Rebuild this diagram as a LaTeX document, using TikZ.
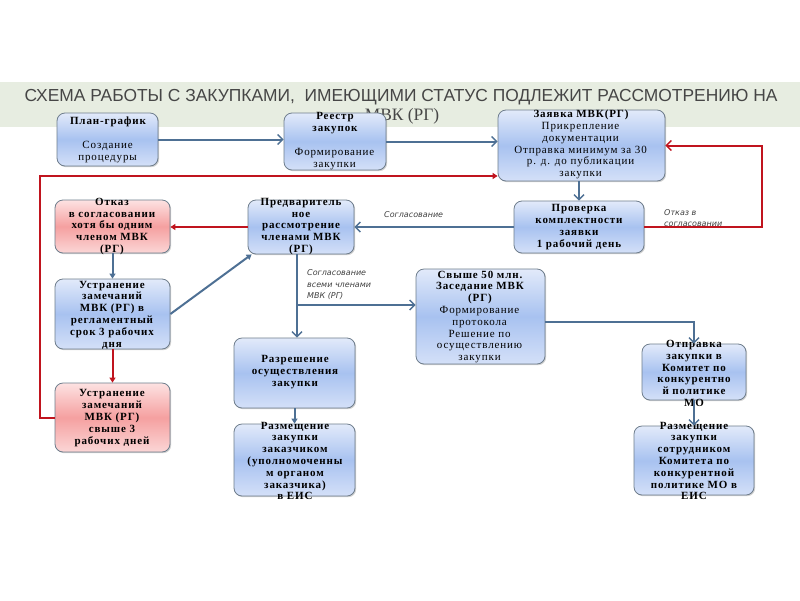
\documentclass[tikz,border=0pt]{standalone}
\usepackage{fontspec}
\setmainfont{Liberation Serif}
\newfontfamily\tsans{Liberation Sans}
\newfontfamily\bxf[LetterSpace=8]{Liberation Serif}
\newfontfamily\lbl{DejaVu Sans}
\usetikzlibrary{arrows.meta,shadows}
\definecolor{band}{RGB}{231,237,225}
\definecolor{ttl}{RGB}{70,70,70}
\definecolor{lblue}{RGB}{78,112,148}
\definecolor{lred}{RGB}{192,20,30}
\definecolor{bord}{RGB}{110,125,140}
\definecolor{btop}{RGB}{226,234,250}
\definecolor{bmid}{RGB}{168,194,240}
\definecolor{bbot}{RGB}{212,224,248}
\definecolor{rtop}{RGB}{253,226,226}
\definecolor{rmid}{RGB}{245,160,160}
\definecolor{rbot}{RGB}{251,214,214}
\tikzset{
  boxb/.style={draw=bord, line width=0.8pt, rounded corners=8pt, inner sep=0pt,
    top color=btop, bottom color=bbot, middle color=bmid,
    drop shadow={shadow xshift=1.2pt, shadow yshift=-1.2pt, opacity=0.35}},
  boxr/.style={draw=bord, line width=0.8pt, rounded corners=8pt, inner sep=0pt,
    top color=rtop, bottom color=rbot, middle color=rmid,
    drop shadow={shadow xshift=1.2pt, shadow yshift=-1.2pt, opacity=0.35}},
  txt/.style={align=center, inner sep=0pt, text=black,
    font=\bxf\fontsize{11}{11.8}\selectfont\bfseries},
  lab/.style={align=left, inner sep=0pt, text=black!75, anchor=west,
    font=\lbl\fontsize{8}{11.5}\selectfont\itshape},
  bl/.style={draw=lblue, line width=2pt},
  rl/.style={draw=lred, line width=2pt},
  opena/.style={-{Straight Barb[length=5pt,width=10pt,line width=1.4pt]}},
  filla/.style={-{Triangle[length=5pt,width=6pt]}},
}
\newcommand\mkbox[6]{\node[#6, minimum width={#4-#2}, minimum height={#5-#3}] (#1) at ({(#2+#4)/2},{(#3+#5)/2}) {};}
\begin{document}
\begin{tikzpicture}[x=1pt,y=-1pt]
\useasboundingbox (0,0) rectangle (800,600);
\fill[white] (0,0) rectangle (800,600);
\fill[band] (0,82) rectangle (800,127);
\node[font=\tsans\fontsize{17.4}{18}\selectfont, text=ttl, inner sep=0] (t1) at (401,97) {СХЕМА РАБОТЫ С ЗАКУПКАМИ,\ \ ИМЕЮЩИМИ СТАТУС ПОДЛЕЖИТ РАССМОТРЕНИЮ НА};
\node[font=\fontsize{17.4}{18}\selectfont, text=ttl, inner sep=0] (t2) at (402,116) {МВК (РГ)};

% boxes
\mkbox{plan}{57}{113}{158}{166}{boxb}
\mkbox{reestr}{284}{113}{386}{170}{boxb}
\mkbox{zayavka}{498}{110}{665}{181}{boxb}
\mkbox{otkaz}{55}{200}{170}{253}{boxr}
\mkbox{pred}{248}{200}{354}{254}{boxb}
\mkbox{prov}{514}{201}{644}{253}{boxb}
\mkbox{ust1}{55}{279}{170}{349}{boxb}
\mkbox{svy}{416}{269}{545}{364}{boxb}
\mkbox{razr}{234}{338}{355}{408}{boxb}
\mkbox{otpr}{642}{344}{746}{400}{boxb}
\mkbox{ust2}{55}{383}{170}{452}{boxr}
\mkbox{razm1}{234}{424}{355}{496}{boxb}
\mkbox{razm2}{634}{426}{754}{495}{boxb}

% texts
\node[txt] (tplan) at (108,140) {План-график\\ \\ \textmd{Создание}\\ \textmd{процедуры}};
\node[txt] (treestr) at (335,141) {Реестр\\ закупок\\ \\ \textmd{Формирование}\\ \textmd{закупки}};
\node[txt] (tzay) at (581,144.5) {Заявка МВК(РГ)\\ \textmd{Прикрепление}\\ \textmd{документации}\\ \textmd{Отправка минимум за 30}\\ \textmd{р. д. до публикации}\\ \textmd{закупки}};
\node[txt] (totk) at (112,226.5) {Отказ\\ в согласовании\\ хотя бы одним\\ членом МВК\\ (РГ)};
\node[txt] (tpred) at (301,226.5) {Предваритель\\ ное\\ рассмотрение\\ членами МВК\\ (РГ)};
\node[txt] (tprov) at (579,227) {Проверка\\ комплектности\\ заявки\\ 1 рабочий день};
\node[txt] (tust1) at (112,315) {Устранение\\ замечаний\\ МВК (РГ) в\\ регламентный\\ срок 3 рабочих\\ дня};
\node[txt] (tsvy) at (480,317) {Свыше 50 млн.\\ Заседание МВК\\ (РГ)\\ \textmd{Формирование}\\ \textmd{протокола}\\ \textmd{Решение по}\\ \textmd{осуществлению}\\ \textmd{закупки}};
\node[txt] (trazr) at (295,372) {Разрешение\\ осуществления\\ закупки};
\node[txt] (totpr) at (694,373.5) {Отправка\\ закупки в\\ Комитет по\\ конкурентно\\ й политике\\ МО};
\node[txt] (tust2) at (112,418) {Устранение\\ замечаний\\ МВК (РГ)\\ свыше 3\\ рабочих дней};
\node[txt] (trazm1) at (295,461) {Размещение\\ закупки\\ заказчиком\\ (уполномоченны\\ м органом\\ заказчика)\\ в ЕИС};
\node[txt] (trazm2) at (694,461) {Размещение\\ закупки\\ сотрудником\\ Комитета по\\ конкурентной\\ политике МО в\\ ЕИС};

% labels
\node[lab] (l1) at (384,215) {Согласование};
\node[lab] (l2) at (664,218) {Отказ в\\ согласовании};
\node[lab] (l3) at (307,285) {Согласование\\ всеми членами\\ МВК (РГ)};

% coordinates
\coordinate (rc) at (40,176);
\coordinate (rr) at (762,0);
\coordinate (br) at (297,305);

% connectors
\draw[bl,opena] (plan.east) -- (plan.east -| reestr.west);
\draw[bl,opena] (reestr.east) -- (reestr.east -| zayavka.west);
\draw[rl,filla] (ust2.west) -| (rc) -- (rc -| zayavka.west);
\draw[bl,opena] (prov.north |- zayavka.south) -- (prov.north);
\draw[bl,opena] (prov.west) -- (prov.west -| pred.east);
\draw[rl,opena] (prov.east) -- (prov.east -| rr) -- (rr |- zayavka.east) -- (zayavka.east);
\draw[rl,filla] (pred.west) -- (pred.west -| otkaz.east);
\draw[bl,filla] (otkaz.south) -- (ust1.north);
\draw[bl,filla] (ust1.east) -- ([xshift=4pt]pred.south west);
\draw[rl,filla] (ust1.south) -- (ust2.north);
\draw[bl,opena] (pred.south -| br) -- (razr.north -| br);
\draw[bl,opena] (br) -- (br -| svy.west);
\draw[bl,opena] ([yshift=-5.5pt]svy.east) -| (otpr.north);
\draw[bl,filla] (razr.south) -- (razm1.north);
\draw[bl,opena] (otpr.south) -- (razm2.north);
\end{tikzpicture}
\end{document}
